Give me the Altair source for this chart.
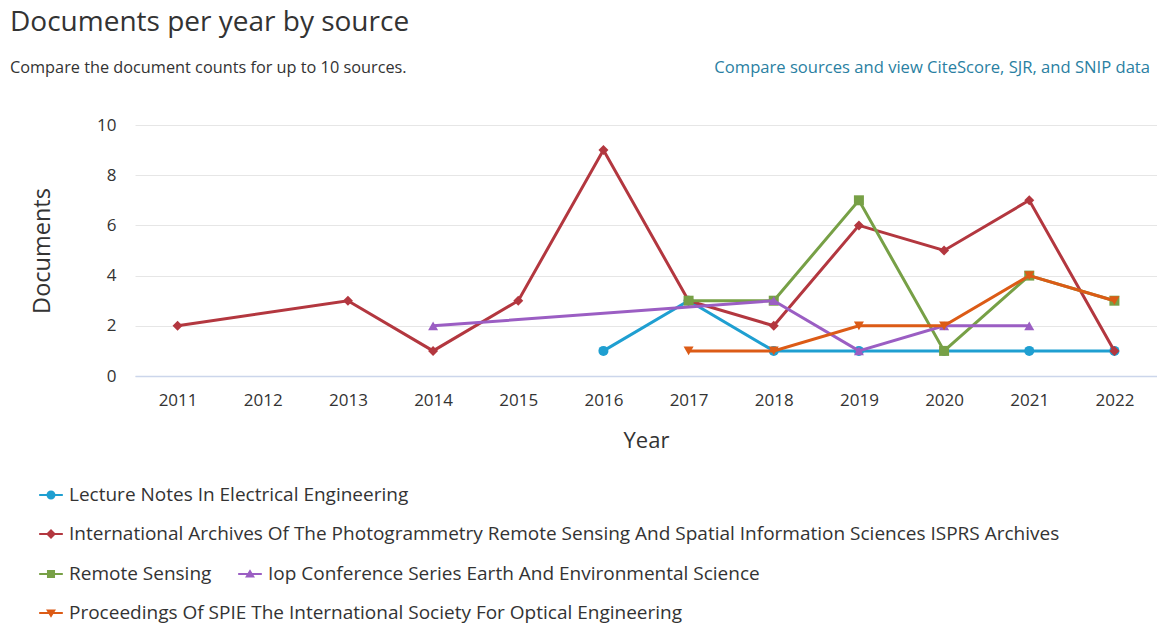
import altair as alt
import pandas as pd

# Publication years shown on the x axis
years = ["2011", "2012", "2013", "2014", "2015", "2016",
         "2017", "2018", "2019", "2020", "2021", "2022"]

# Sources, in legend order
sources = [
    "Lecture Notes In Electrical Engineering",
    "International Archives Of The Photogrammetry Remote Sensing And Spatial Information Sciences ISPRS Archives",
    "Remote Sensing",
    "Iop Conference Series Earth And Environmental Science",
    "Proceedings Of SPIE The International Society For Optical Engineering",
]

# Documents per year for each source (None = no documents that year)
lecture_notes = [None, None, None, None, None, 1, 3, 1, 1, 1, 1, 1]
isprs_archives = [2, None, 3, 1, 3, 9, 3, 2, 6, 5, 7, 1]
remote_sensing = [None, None, None, None, None, None, 3, 3, 7, 1, 4, 3]
iop_conference = [None, None, None, 2, None, None, None, 3, 1, 2, 2, None]
spie_proceedings = [None, None, None, None, None, None, 1, 1, 2, 2, 4, 3]

series_values = [lecture_notes, isprs_archives, remote_sensing,
                 iop_conference, spie_proceedings]

colors = ["#1f9fd1", "#b3373f", "#77a046", "#9b5ec3", "#dc5b16"]
marker_shapes = ["circle", "diamond", "square", "triangle-up", "triangle-down"]

# Header texts
title_text = "Documents per year by source"
subtitle_text = "Compare the document counts for up to 10 sources."
link_text = "Compare sources and view CiteScore, SJR, and SNIP data"

# Legend symbols: a short line with the series marker on it
LINE = "M-1,-0.09L1,-0.09L1,0.09L-1,0.09Z"
legend_markers = [
    "M-0.38,0A0.38,0.38 0 1,1 0.38,0A0.38,0.38 0 1,1 -0.38,0Z",
    "M0,-0.42L0.42,0L0,0.42L-0.42,0Z",
    "M-0.34,-0.34L0.34,-0.34L0.34,0.34L-0.34,0.34Z",
    "M0,-0.4L0.42,0.3L-0.42,0.3Z",
    "M0,0.4L-0.42,-0.3L0.42,-0.3Z",
]

# Legend placement (relative to the plot area)
legend_pos = [(-96, 358), (-96, 397), (-96, 437), (103, 437), (-96, 476)]

FONT = "Open Sans"
TEXT = "#333333"

x_enc = alt.X("Year:O", scale=alt.Scale(domain=years, type="point", padding=0.5),
              axis=alt.Axis(title="Year"))
y_enc = alt.Y("Documents:Q", scale=alt.Scale(domain=[0, 10]),
              axis=alt.Axis(title="Documents", values=[0, 2, 4, 6, 8, 10]))

layers = []
for i, (name, vals) in enumerate(zip(sources, series_values)):
    df = pd.DataFrame({
        "Year": [y for y, v in zip(years, vals) if v is not None],
        "Documents": [v for v in vals if v is not None],
        "Source": name,
    })
    color_scale = alt.Scale(domain=[name], range=[colors[i]])
    lx, ly = legend_pos[i]
    legend = alt.Legend(
        title=None, orient="none", legendX=lx, legendY=ly,
        symbolType=LINE + legend_markers[i], symbolSize=560,
        symbolStrokeWidth=0, symbolOpacity=1,
        symbolFillColor=colors[i], symbolStrokeColor=colors[i],
        labelFont=FONT, labelFontSize=19, labelColor=TEXT,
        labelLimit=0, labelOffset=6,
    )
    base = alt.Chart(df).encode(x=x_enc, y=y_enc)
    line = base.mark_line(strokeWidth=3).encode(
        color=alt.Color("Source:N", scale=color_scale, legend=legend)
    )
    points = base.mark_point(filled=True, opacity=1, size=100,
                             shape=marker_shapes[i]).encode(
        color=alt.Color("Source:N", scale=color_scale, legend=legend)
    )
    layers.append(alt.layer(line, points))

title = alt.Chart(pd.DataFrame({"t": [title_text]})).mark_text(
    align="left", baseline="middle", font=FONT, fontSize=28, color=TEXT
).encode(x=alt.value(-125), y=alt.value(-102), text="t:N")

subtitle = alt.Chart(pd.DataFrame({"t": [subtitle_text]})).mark_text(
    align="left", baseline="middle", font=FONT, fontSize=16.3, color=TEXT
).encode(x=alt.value(-125), y=alt.value(-57), text="t:N")

link = alt.Chart(pd.DataFrame({"t": [link_text]})).mark_text(
    align="right", baseline="middle", font=FONT, fontSize=16.6, color="#2a7fa2"
).encode(x=alt.value(1015), y=alt.value(-57), text="t:N")

chart = alt.layer(*layers, title, subtitle, link).resolve_scale(
    color="independent"
).resolve_legend(
    color="independent"
).properties(
    width=1022,
    height=251,
    background="white",
    autosize=alt.AutoSizeParams(type="none"),
    padding={"left": 135, "top": 125, "right": 0, "bottom": 250},
).configure_view(
    stroke=None
).configure_axisX(
    labelFont=FONT, labelFontSize=17, labelColor=TEXT, labelAngle=0,
    labelPadding=16, titleFont=FONT, titleFontSize=22, titleFontWeight="normal",
    titleColor=TEXT, titlePadding=22, ticks=False, grid=False,
    domainColor="#ccd6eb", domainWidth=1.5,
).configure_axisY(
    labelFont=FONT, labelFontSize=17, labelColor=TEXT, labelPadding=19,
    titleFont=FONT, titleFontSize=23.5, titleFontWeight="normal", titleColor=TEXT,
    titlePadding=42, ticks=False, domain=False, gridColor="#e6e6e6",
)

chart.save("out.html", embed_options={"renderer": "svg", "actions": False})
